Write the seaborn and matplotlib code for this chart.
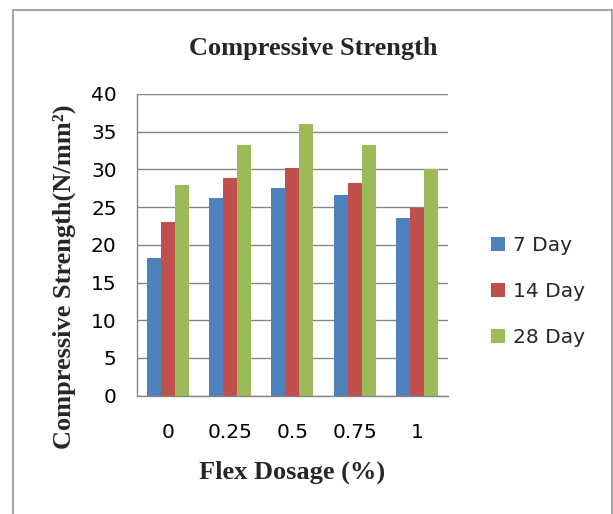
import matplotlib
matplotlib.use("Agg")
import matplotlib.pyplot as plt
from matplotlib.patches import Rectangle
import seaborn as sns
import pandas as pd

# ---- data ----
dosage = ["0", "0.25", "0.5", "0.75", "1"]
day7 = [18.2, 26.2, 27.5, 26.6, 23.5]
day14 = [23.0, 28.9, 30.2, 28.2, 24.9]
day28 = [28.0, 33.3, 36.0, 33.3, 30.0]
series_names = ["7 Day", "14 Day", "28 Day"]
yticks = [0, 5, 10, 15, 20, 25, 30, 35, 40]

colors = ["#4F81BD", "#C0504D", "#9BBB59"]

rows = []
for name, vals in zip(series_names, [day7, day14, day28]):
    for d, v in zip(dosage, vals):
        rows.append({"Dosage": d, "Strength": v, "Age": name})
df = pd.DataFrame(rows)

sns.set_style("white")
plt.rcParams["font.family"] = ["DejaVu Sans"]

W, H = 613, 514
fig = plt.figure(figsize=(W / 100, H / 100), dpi=100)
ax = fig.add_axes([136.7 / W, (H - 395.7) / H, 311.3 / W, 301.7 / H])

sns.barplot(data=df, x="Dosage", y="Strength", hue="Age", order=dosage,
            hue_order=series_names, palette=colors, width=0.674, gap=0,
            saturation=1, linewidth=0, errorbar=None, ax=ax)

grid_c = "#868686"
ax.set_ylim(0, 40)
ax.set_yticks(yticks)
ax.set_axisbelow(True)
ax.grid(axis="y", color=grid_c, lw=1.0)
ax.grid(axis="x", visible=False)
for s in ["top", "right"]:
    ax.spines[s].set_visible(False)
for s in ["left", "bottom"]:
    ax.spines[s].set_color(grid_c)
    ax.spines[s].set_linewidth(1.0)

ax.tick_params(axis="y", length=5.4, width=1.0, color=grid_c, direction="out",
               pad=9, labelsize=14.5, labelcolor="black")
ax.tick_params(axis="x", length=0, pad=20, labelsize=14.5, labelcolor="black")

serif_bold = dict(family=["Liberation Serif", "DejaVu Serif"], weight="bold", size=19)
ax.set_title("Compressive Strength", x=0.566, pad=28, fontdict=serif_bold)
ax.set_xlabel("Flex Dosage (%)", labelpad=13, fontdict=serif_bold)
ax.set_ylabel("Compressive Strength(N/mm²)", fontdict=serif_bold, va="center")
ax.yaxis.set_label_coords(-0.232, 0.395)

leg = ax.legend(loc="center left", bbox_to_anchor=(491 / W, 1 - 291.5 / H),
                bbox_transform=fig.transFigure, frameon=False, fontsize=14.5,
                handlelength=0.7, handleheight=0.7, handletextpad=0.4,
                labelspacing=1.36, borderpad=0, borderaxespad=0, title=None)

fig.patches.append(Rectangle((12.7 / W, -0.05), (611.5 - 12.7) / W, 1.05 - 9.7 / H,
                             transform=fig.transFigure, fill=False,
                             edgecolor="#8C8C8C", lw=1.1, figure=fig))

fig.savefig("out.png", dpi=100)
